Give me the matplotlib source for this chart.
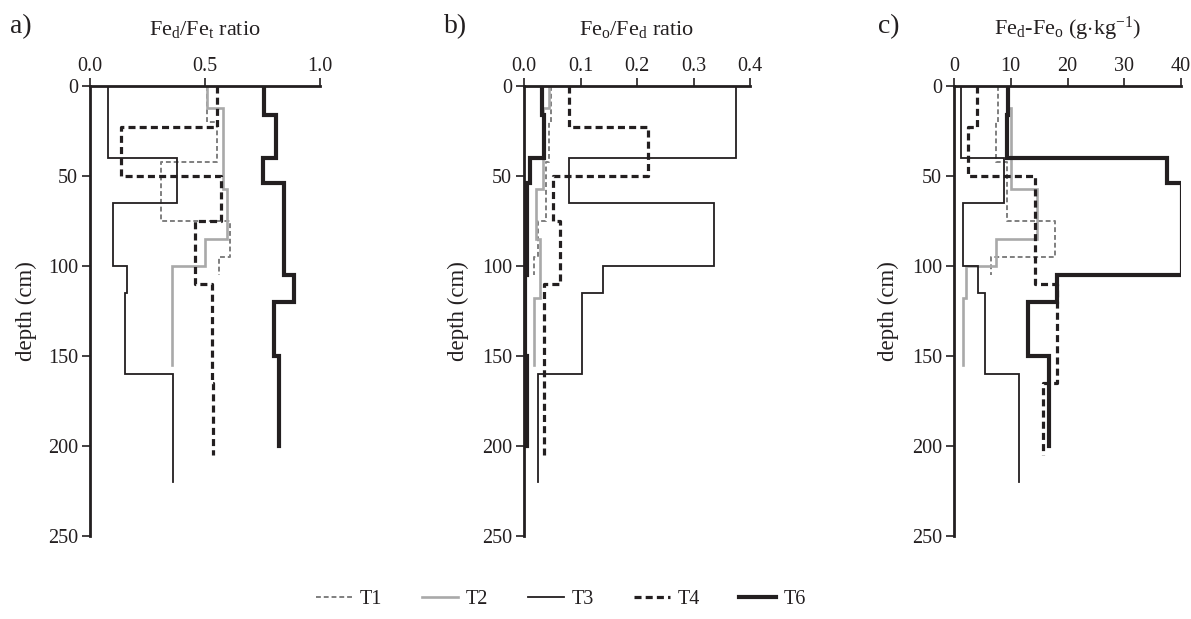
import matplotlib
matplotlib.use("Agg")
import matplotlib.pyplot as plt
import numpy as np

plt.rcParams['font.family'] = ['Liberation Serif', 'DejaVu Serif']
plt.rcParams['mathtext.fontset'] = 'custom'
plt.rcParams['mathtext.rm'] = 'Liberation Serif'
plt.rcParams['mathtext.it'] = 'Liberation Serif:italic'
plt.rcParams['axes.unicode_minus'] = False

ink = '#231f20'

# horizon boundaries (cm) for each profile
depth_T1 = [0, 20, 42, 75, 95, 105]
depth_T2 = [0, 12, 57, 85, 100, 118, 155]
depth_T3 = [0, 40, 65, 100, 115, 160, 220]
depth_T4 = [0, 23, 50, 75, 110, 165, 205]
depth_T6 = [0, 16, 40, 54, 105, 120, 150, 200]

# a) Fed/Fet ratio
a_T1 = [0.51, 0.55, 0.31, 0.61, 0.56]
a_T2 = [0.51, 0.577, 0.594, 0.50, 0.355, 0.355]
a_T3 = [0.08, 0.38, 0.10, 0.16, 0.15, 0.36]
a_T4 = [0.55, 0.135, 0.568, 0.457, 0.532, 0.536]
a_T6 = [0.758, 0.809, 0.753, 0.843, 0.887, 0.80, 0.823]

# b) Feo/Fed ratio
b_T1 = [0.047, 0.044, 0.039, 0.024, 0.018]
b_T2 = [0.044, 0.034, 0.022, 0.028, 0.028, 0.018]
b_T3 = [0.375, 0.079, 0.337, 0.139, 0.102, 0.024]
b_T4 = [0.079, 0.219, 0.051, 0.064, 0.035, 0.035]
b_T6 = [0.031, 0.035, 0.010, 0.006, 0.002, 0.002, 0.006]

# c) Fed-Feo (g/kg)
c_T1 = [7.7, 7.4, 9.3, 17.8, 6.6]
c_T2 = [9.5, 10.0, 14.7, 7.4, 2.2, 1.5]
c_T3 = [1.2, 8.8, 1.6, 4.3, 5.5, 11.5]
c_T4 = [4.1, 2.5, 14.3, 18.1, 15.6]
c_T6 = [9.6, 9.3, 37.6, 40.2, 18.1, 13.1, 16.7]
depth_T4c = [0, 23, 50, 110, 165, 205]

labels = ['T1', 'T2', 'T3', 'T4', 'T6']
styles = [
    dict(color='#7f7f7f', lw=1.4, ls=(0, (2.5, 1.5))),
    dict(color='#a9a9a9', lw=1.9, ls='-'),
    dict(color=ink, lw=1.3, ls='-'),
    dict(color=ink, lw=2.3, ls=(0, (2.2, 1.3))),
    dict(color=ink, lw=3.0, ls='-'),
]


def profile(ax, depths, vals, **kw):
    # step profile: each value spans its horizon, joined horizontally
    x = np.repeat(vals, 2)
    y = np.repeat(depths, 2)[1:-1]
    return ax.plot(x, y, solid_joinstyle='miter', **kw)[0]


fig = plt.figure(figsize=(11.91, 6.19), dpi=100)
lefts = [90 / 1191, 524 / 1191, 954 / 1191]
widths = [230 / 1191, 226 / 1191, 227 / 1191]
ylab_x = [-0.23, -0.243, -0.242]
bottom = 1 - 536 / 619
height = (536 - 86) / 619

panels = [
    ([depth_T1, depth_T2, depth_T3, depth_T4, depth_T6],
     [a_T1, a_T2, a_T3, a_T4, a_T6], (0, 1.0), [0.0, 0.5, 1.0], '%.1f',
     r'Fe$_\mathrm{d}$/Fe$_\mathrm{t}$ ratio', 'a)'),
    ([depth_T1, depth_T2, depth_T3, depth_T4, depth_T6],
     [b_T1, b_T2, b_T3, b_T4, b_T6], (0, 0.4), [0.0, 0.1, 0.2, 0.3, 0.4], '%.1f',
     r'Fe$_\mathrm{o}$/Fe$_\mathrm{d}$ ratio', 'b)'),
    ([depth_T1, depth_T2, depth_T3, depth_T4c, depth_T6],
     [c_T1, c_T2, c_T3, c_T4, c_T6], (0, 40), [0, 10, 20, 30, 40], '%d',
     r'Fe$_\mathrm{d}$-Fe$_\mathrm{o}$ (g$\cdot$kg$^{\mathrm{-1}}$)', 'c)'),
]

handles = []
for i, (deps, vals, xlim, xticks, fmt, title, tag) in enumerate(panels):
    ax = fig.add_axes([lefts[i], bottom, widths[i], height])
    hs = []
    for d, v, st in zip(deps, vals, styles):
        hs.append(profile(ax, d, v, **st))
    if i == 0:
        handles = hs
    ax.set_xlim(*xlim)
    ax.set_ylim(250, 0)
    ax.set_xticks(xticks)
    ax.set_xticklabels([fmt % t for t in xticks])
    ax.set_yticks([0, 50, 100, 150, 200, 250])
    ax.xaxis.tick_top()
    for s in ['bottom', 'right']:
        ax.spines[s].set_visible(False)
    for s in ['top', 'left']:
        ax.spines[s].set_color(ink)
        ax.spines[s].set_linewidth(2.0)
    ax.tick_params(direction='out', length=5.5, width=1.2, colors=ink,
                   labelsize=14.5, pad=3)
    ax.tick_params(axis='x', pad=2)
    ax.set_ylabel('depth (cm)', fontsize=16.5, color=ink)
    ax.yaxis.set_label_coords(ylab_x[i], 0.5)
    ax.text(0.5, 1.0 + 57 / 450, title, transform=ax.transAxes, ha='center',
            va='center', fontsize=16, color=ink)
    fig.text(lefts[i] - [80, 80, 76][i] / 1191, 1 - 27 / 619, tag,
             ha='left', va='center', fontsize=20, color=ink)

fig.legend(handles, labels, loc='center', bbox_to_anchor=(0.471, 0.032),
           ncol=5, frameon=False, fontsize=14.5, handlelength=1.8,
           handletextpad=0.4, columnspacing=1.95, labelcolor=ink)

fig.savefig('out.png', dpi=100)
